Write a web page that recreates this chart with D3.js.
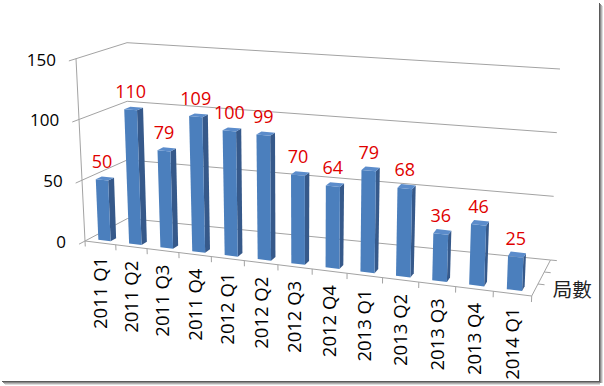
<!DOCTYPE html>
<html lang="zh-Hant">
<head>
<meta charset="UTF-8">
<script src="https://d3js.org/d3.v7.min.js"></script>
<title>局數 3D column</title>
<style>
  body { margin: 0; background: #fff; }
  text { font-family: "Open Sans", "Noto Sans CJK TC", sans-serif; }
</style>
</head>
<body>
<div id="chart"></div>
<script>
const categories = ["2011 Q1", "2011 Q2", "2011 Q3", "2011 Q4", "2012 Q1", "2012 Q2", "2012 Q3",
                    "2012 Q4", "2013 Q1", "2013 Q2", "2013 Q3", "2013 Q4", "2014 Q1"];
const counts = [50, 110, 79, 109, 100, 99, 70, 64, 79, 68, 36, 46, 25];
const valueTicks = [0, 50, 100, 150];
const seriesSlots = ["局數", "", " "];   // depth axis has three slots, only the first is used

const W = 604, H = 386;
const svg = d3.select("#chart").append("svg").attr("width", W).attr("height", H);

// drop shadow on right / bottom of the picture frame
const shade = ["#5a5a5a", "#8a8a8a", "#b4b4b4", "#dcdcdc"];
shade.forEach((c, k) => {
  svg.append("rect").attr("x", 599 + k).attr("y", 3 + k).attr("width", 1).attr("height", 380 - k).attr("fill", c);
  svg.append("rect").attr("x", 2 + k).attr("y", 381 + k).attr("width", 598 - k).attr("height", 1).attr("fill", c);
});

// screen position of the eight corners of the plot box
const box = {
  f0: [85, 241],   f1: [531.7, 296],   // floor, front edge
  b0: [127.5, 218.5], b1: [550.5, 260], // floor, back edge
  tf0: [76, 58.7], tf1: [540, 95],     // top, front
  tb0: [127, 42.7], tb1: [560, 69]     // top, back
};
const lerp = (a, b, t) => [a[0] + (b[0] - a[0]) * t, a[1] + (b[1] - a[1]) * t];
// s: along categories, w: along values, z: into depth (all 0..1)
function P(s, w, z) {
  const front = lerp(lerp(box.f0, box.f1, s), lerp(box.tf0, box.tf1, s), w);
  const back = lerp(lerp(box.b0, box.b1, s), lerp(box.tb0, box.tb1, s), w);
  return lerp(front, back, z);
}
// perspective: slots get wider to the right
const warp = u => 0.887 * u / (1 - 0.113 * u);

const x = d3.scaleBand().domain(categories).range([0, 1]).paddingInner(0.6).paddingOuter(0.3);
const y = d3.scaleLinear().domain([0, 150]).range([0, 1]);
const z = d3.scaleBand().domain(seriesSlots).range([0, 1]).paddingInner(0.6).paddingOuter(0.3);

const grid = "#a3a3a3";
const seg = (a, b, col) => svg.append("line")
  .attr("x1", a[0]).attr("y1", a[1]).attr("x2", b[0]).attr("y2", b[1])
  .attr("stroke", col || grid).attr("stroke-width", 1);

// walls
valueTicks.forEach(v => {
  seg(P(0, y(v), 0), P(0, y(v), 1));
  seg(P(0, y(v), 1), P(1, y(v), 1));
});
// floor edges and value axis
seg(P(0, 0, 0), P(1, 0, 0));
seg(P(1, 0, 0), P(1, 0, 1));
seg(P(0, 0, 0), P(0, 1, 0));

// value ticks and labels
valueTicks.forEach(v => {
  const a = P(0, y(v), 0), b = P(0, y(v), -0.14);
  seg(a, b);
  svg.append("text").attr("x", b[0] - 13).attr("y", a[1] + 1).attr("dy", "0.35em")
    .attr("text-anchor", "end").attr("font-size", 17).attr("fill", "#000").text(v);
});

// category ticks
d3.range(categories.length + 1).forEach(i => {
  const s = warp(i * x.step());
  seg(P(s, 0, 0), P(s, -0.03, 0));
});
// depth ticks
[1 / 3, 2 / 3, 1].forEach(t => seg(P(1, 0, t), P(1.015, 0, t)));

// bars
const z0 = z(seriesSlots[0]), z1 = z0 + z.bandwidth();
const poly = pts => d3.line()(pts) + "Z";
const bars = svg.append("g").selectAll("g").data(counts).join("g");
bars.each(function (v, i) {
  const u0 = x(categories[i]), u1 = u0 + x.bandwidth();
  const s0 = warp(u0), s1 = warp(u1), h = y(v);
  const g = d3.select(this);
  g.append("path").attr("d", poly([P(s1, 0, z0), P(s1, 0, z1), P(s1, h, z1), P(s1, h, z0)]))
    .attr("fill", "#36598a");
  g.append("path").attr("d", poly([P(s0, 0, z0), P(s1, 0, z0), P(s1, h, z0), P(s0, h, z0)]))
    .attr("fill", "#4b7fbd");
  g.append("path").attr("d", poly([P(s0, h, z0), P(s1, h, z0), P(s1, h, z1), P(s0, h, z1)]))
    .attr("fill", "#5b8ccb");
});

// value labels
counts.forEach((v, i) => {
  const u0 = x(categories[i]), u1 = u0 + x.bandwidth();
  const a = P(warp(u0), y(v), z0), b = P(warp(u1), y(v), z0);
  svg.append("text").attr("x", (a[0] + b[0]) / 2).attr("y", (a[1] + b[1]) / 2 - 12)
    .attr("text-anchor", "middle").attr("font-size", 18).attr("fill", "#e00000").text(v);
});

// category labels
categories.forEach(c => {
  const p = P(warp(x(c) + x.bandwidth() / 2), 0, 0);
  svg.append("text").attr("transform", `translate(${p[0]},${p[1] + 14}) rotate(-90)`)
    .attr("dy", "0.35em").attr("text-anchor", "end").attr("font-size", 18.5).attr("fill", "#000").text(c);
});

// series name on the depth axis
const sp = P(1, 0, z0 + z.bandwidth() / 2);
svg.append("text").attr("x", sp[0] + 18).attr("y", sp[1]).attr("dy", "0.35em")
  .attr("font-size", 19.5).attr("fill", "#222").style("font-family", "'Noto Sans CJK TC', sans-serif")
  .text(seriesSlots[0]);
</script>
</body>
</html>
